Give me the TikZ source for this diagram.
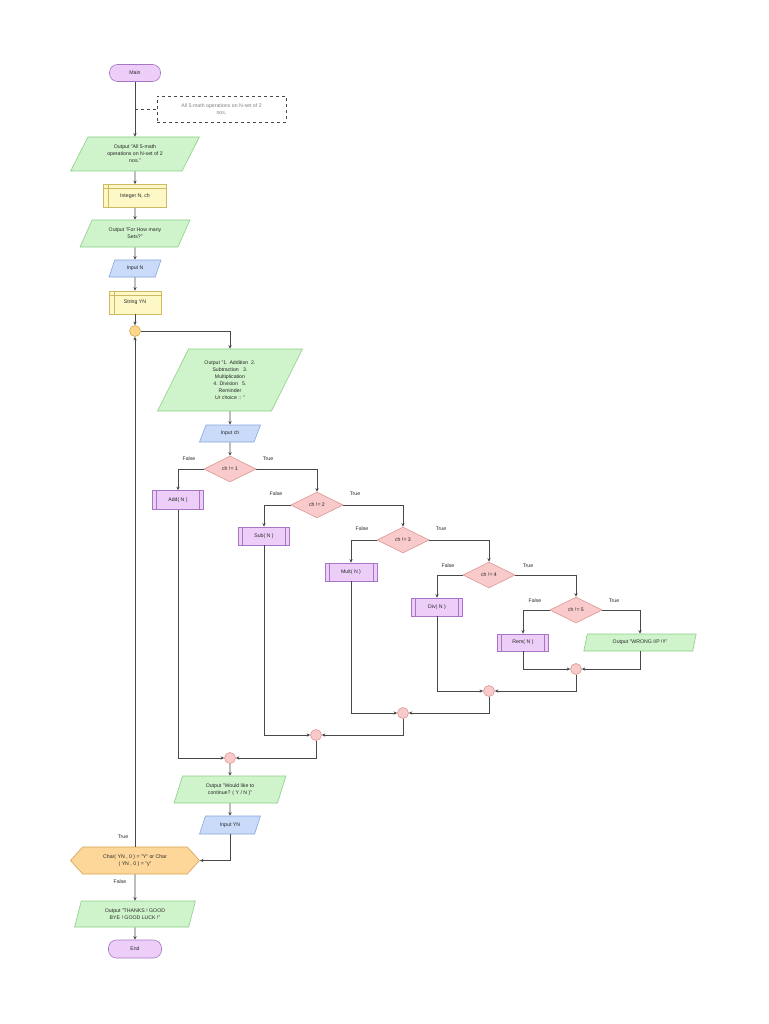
\documentclass[tikz,border=0pt]{standalone}
\usepackage{fontspec}
\setmainfont{Liberation Sans}
\usetikzlibrary{shapes.geometric,shapes.symbols,arrows.meta}
\definecolor{lnc}{HTML}{484848}
\definecolor{txc}{HTML}{282828}
\definecolor{gfill}{HTML}{CFF3CB}\definecolor{gdraw}{HTML}{8ECF88}
\definecolor{bfill}{HTML}{C9DBF8}\definecolor{bdraw}{HTML}{86A6DE}
\definecolor{yfill}{HTML}{FDF8C6}\definecolor{ydraw}{HTML}{CDBA62}
\definecolor{pfill}{HTML}{ECCEF8}\definecolor{pdraw}{HTML}{A777C6}
\definecolor{rfill}{HTML}{F9CACA}\definecolor{rdraw}{HTML}{DE9696}
\definecolor{ofill}{HTML}{FDD699}\definecolor{odraw}{HTML}{D6A254}
\definecolor{cfill}{HTML}{FDD88C}\definecolor{cdraw}{HTML}{D8AA50}
\tikzset{
  base/.style={font=\fontsize{5.2}{7}\selectfont, text=txc, align=center, inner sep=1pt, line width=0.6pt},
  terminal/.style={base, rectangle, rounded corners=8pt, fill=pfill, draw=pdraw},
  para/.style={base, trapezium, trapezium stretches=true, fill=gfill, draw=gdraw},
  inpara/.style={base, trapezium, trapezium stretches=true, fill=bfill, draw=bdraw},
  storage/.style={base, rectangle, fill=yfill, draw=ydraw,
    path picture={\draw[ydraw, line width=0.6pt] ([xshift=5pt]path picture bounding box.north west) -- ([xshift=5pt]path picture bounding box.south west);
                  \draw[ydraw, line width=0.6pt] ([yshift=-4pt]path picture bounding box.north west) -- ([yshift=-4pt]path picture bounding box.north east);}},
  proc/.style={base, rectangle, fill=pfill, draw=pdraw,
    path picture={\draw[pdraw, line width=0.6pt] ([xshift=4pt]path picture bounding box.north west) -- ([xshift=4pt]path picture bounding box.south west);
                  \draw[pdraw, line width=0.6pt] ([xshift=-4pt]path picture bounding box.north east) -- ([xshift=-4pt]path picture bounding box.south east);}},
  decision/.style={base, diamond, fill=rfill, draw=rdraw, minimum width=52pt, minimum height=26pt, inner sep=0pt},
  merge/.style={circle, fill=rfill, draw=rdraw, line width=0.6pt, minimum size=11pt, inner sep=0pt},
  loopc/.style={circle, fill=cfill, draw=cdraw, line width=0.6pt, minimum size=11pt, inner sep=0pt},
  lbl/.style={font=\fontsize{5.2}{6}\selectfont, text=txc, inner sep=0pt},
  flow/.style={draw=lnc, line width=0.9pt, -{Stealth[length=3.6pt,width=3.3pt]}},
}
\begin{document}
\begin{tikzpicture}[x=1pt,y=-1pt]
\useasboundingbox[fill=white] (0,0) rectangle (768,1024);

\node[terminal, minimum width=51pt, minimum height=17pt] (main) at (135,73) {Main};
\node[base, draw=lnc, dashed, line width=0.5pt, text=gray, minimum width=129pt, minimum height=26pt] (cmt) at (221.5,109) {All 5-math operations on N-set of 2\\nos.};
\node[para, trapezium left angle=62, trapezium right angle=118, minimum width=129pt, minimum height=34pt] (out1) at (135,154) {Output "All 5-math\\operations on N-set of 2\\nos."};
\node[storage, minimum width=63pt, minimum height=23pt] (intg) at (135,196) {Integer N, ch};
\node[para, trapezium left angle=59, trapezium right angle=121, minimum width=110pt, minimum height=27pt] (out2) at (135,233.5) {Output "For How many\\Sets?"};
\node[inpara, trapezium left angle=68, trapezium right angle=112, minimum width=52pt, minimum height=17pt] (inN) at (135,268.5) {Input N};
\node[storage, minimum width=52pt, minimum height=23pt] (strYN) at (135,302.5) {String YN};
\node[loopc] (c0) at (135,331) {};
\node[para, trapezium left angle=64, trapezium right angle=116, minimum width=146pt, minimum height=62pt] (menu) at (230,380) {Output "1. Addition~ 2.\\Subtraction~~ 3.\\Multiplication\\4. Division~~ 5.\\Reminder\\Ur choice :: "};
\node[inpara, trapezium left angle=68, trapezium right angle=112, minimum width=61pt, minimum height=17pt] (inch) at (230,433.5) {Input ch};

\node[decision] (d1) at (230,469) {ch != 1};
\node[proc, minimum width=51pt, minimum height=19pt] (add) at (178,500) {Add( N )};
\node[decision] (d2) at (317,505) {ch != 2};
\node[proc, minimum width=51pt, minimum height=18pt] (sub) at (264,536) {Sub( N )};
\node[decision] (d3) at (403,540) {ch != 3};
\node[proc, minimum width=52pt, minimum height=18pt] (mult) at (351,572) {Mult( N )};
\node[decision] (d4) at (489,575) {ch != 4};
\node[proc, minimum width=51pt, minimum height=18pt] (div) at (437,607) {Div( N )};
\node[decision] (d5) at (576,610) {ch != 5};
\node[proc, minimum width=51pt, minimum height=17pt] (rem) at (523,642.5) {Rem( N )};
\node[para, trapezium left angle=75, trapezium right angle=105, minimum width=113pt, minimum height=17pt] (wrong) at (640,642.5) {Output "WRONG I/P !!!"};

\node[merge] (m5) at (576,669) {};
\node[merge] (m4) at (489,691) {};
\node[merge] (m3) at (403,713) {};
\node[merge] (m2) at (316,735) {};
\node[merge] (m1) at (230,758) {};

\node[para, trapezium left angle=72, trapezium right angle=108, minimum width=112pt, minimum height=27pt] (would) at (230,789.5) {Output "Would like to\\continue? ( Y / N )"};
\node[inpara, trapezium left angle=68, trapezium right angle=112, minimum width=61pt, minimum height=18pt] (inYN) at (230,825) {Input YN};
\node[base, signal, signal to=west and east, signal pointer angle=96, fill=ofill, draw=odraw, minimum width=129pt, minimum height=27pt] (hex) at (135,860.5) {Char( YN , 0 ) = "Y" or Char\\( YN , 0 ) = "y"};
\node[para, trapezium left angle=73, trapezium right angle=107, minimum width=121pt, minimum height=26pt] (thanks) at (135,914) {Output "THANKS ! GOOD\\BYE ! GOOD LUCK !"};
\node[terminal, minimum width=53pt, minimum height=18pt] (endn) at (135,949) {End};

% labels
\node[lbl] (f1) at (189,459) {False};
\node[lbl] (t1) at (268,459) {True};
\node[lbl] (f2) at (276,494) {False};
\node[lbl] (t2) at (355,494) {True};
\node[lbl] (f3) at (362,529) {False};
\node[lbl] (t3) at (441,529) {True};
\node[lbl] (f4) at (448,566) {False};
\node[lbl] (t4) at (528,566) {True};
\node[lbl] (f5) at (535,601) {False};
\node[lbl] (t5) at (614,601) {True};
\node[lbl] (tl) at (123,837) {True};
\node[lbl] (fl) at (120,882) {False};

% connectors
\draw[flow] (main) -- (out1);
\coordinate (cj) at (main.south |- cmt.west);
\draw[draw=lnc, dashed, line width=0.5pt] (cj) -- (cmt.west);
\draw[flow] (out1) -- (intg);
\draw[flow] (intg) -- (out2);
\draw[flow] (out2) -- (inN);
\draw[flow] (inN) -- (strYN);
\draw[flow] (strYN) -- (c0);
\draw[flow] (c0.east) -| (menu.north);
\draw[flow] (menu) -- (inch);
\draw[flow] (inch) -- (d1);

\draw[flow] (d1.west) -| (add.north);
\draw[flow] (d1.east) -| (d2.north);
\draw[flow] (d2.west) -| (sub.north);
\draw[flow] (d2.east) -| (d3.north);
\draw[flow] (d3.west) -| (mult.north);
\draw[flow] (d3.east) -| (d4.north);
\draw[flow] (d4.west) -| (div.north);
\draw[flow] (d4.east) -| (d5.north);
\draw[flow] (d5.west) -| (rem.north);
\draw[flow] (d5.east) -| (wrong.north);

\draw[flow] (rem.south) |- (m5.west);
\draw[flow] (wrong.south) |- (m5.east);
\draw[flow] (div.south) |- (m4.west);
\draw[flow] (m5.south) |- (m4.east);
\draw[flow] (mult.south) |- (m3.west);
\draw[flow] (m4.south) |- (m3.east);
\draw[flow] (sub.south) |- (m2.west);
\draw[flow] (m3.south) |- (m2.east);
\draw[flow] (add.south) |- (m1.west);
\draw[flow] (m2.south) |- (m1.east);

\draw[flow] (m1) -- (would);
\draw[flow] (would) -- (inYN);
\draw[flow] (inYN.south) |- (hex.east);
\draw[flow] (hex.north) -- (c0.south);
\draw[flow] (hex.south) -- (thanks.north);
\draw[flow] (thanks) -- (endn);
\end{tikzpicture}
\end{document}
